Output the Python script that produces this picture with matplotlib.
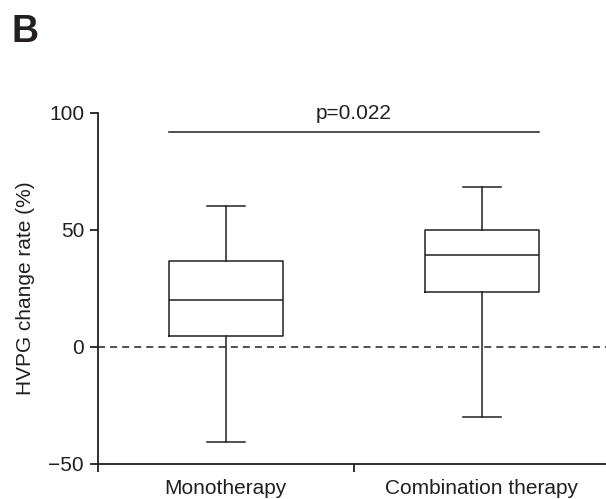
import matplotlib
matplotlib.use("Agg")
import matplotlib.pyplot as plt

categories = ["Monotherapy", "Combination therapy"]
whisker_low = [-40.7, -29.9]
q1 = [4.6, 23.5]
median = [20.0, 39.3]
q3 = [36.8, 49.9]
whisker_high = [60.3, 68.2]
p_text = "p=0.022"
sig_y = 91.8
yticks = [-50, 0, 50, 100]

plt.rcParams['font.family'] = ['Liberation Sans', 'DejaVu Sans']
col = '#231f20'

fig = plt.figure(figsize=(6.06, 4.99), dpi=100)
ax = fig.add_axes([98/606, 35.3/499, (609.4-98)/606, (463.7-112.7)/499])

stats = []
for i, c in enumerate(categories):
    stats.append(dict(label=c, whislo=whisker_low[i], q1=q1[i], med=median[i],
                      q3=q3[i], whishi=whisker_high[i], fliers=[]))
lp = dict(color=col, linewidth=1.1)
ax.bxp(stats, positions=[0, 1], widths=0.446, showfliers=False,
       boxprops=lp, medianprops=lp, whiskerprops=lp, capprops=lp,
       capwidths=0.149)

ax.axhline(0, color=col, linewidth=1.1, linestyle=(0, (4.6, 3.3)))
ax.plot([-0.223, 1.223], [sig_y, sig_y], color=col, linewidth=1.1, clip_on=False)
ax.text(0.5, sig_y + 4, p_text, ha='center', va='bottom', fontsize=15, color=col, clip_on=False)

ax.set_xlim(-0.5, 1.5)
ax.set_ylim(-50, 100)
ax.set_yticks(yticks)
ax.set_yticklabels(["\u221250", "0", "50", "100"])
ax.set_xticks([0, 1])
ax.set_xticklabels(categories)
ax.set_xticks([-0.5, 0.5, 1.5], minor=True)
ax.tick_params(axis='x', which='major', length=0, pad=11, labelsize=15, colors=col)
ax.tick_params(axis='x', which='minor', length=6, width=1.3, direction='out', color=col)
ax.tick_params(axis='y', which='major', length=6, width=1.3, pad=4, labelsize=15, colors=col)
for s in ['top', 'right']:
    ax.spines[s].set_visible(False)
for s in ['left', 'bottom']:
    ax.spines[s].set_linewidth(1.3)
    ax.spines[s].set_color(col)
ax.set_ylabel("HVPG change rate (%)", fontsize=15, color=col, labelpad=10)

fig.text(12/606, 1 - 42/499, "B", fontsize=27, fontweight='bold', color=col,
         ha='left', va='baseline')

fig.savefig("out.png", dpi=100)
